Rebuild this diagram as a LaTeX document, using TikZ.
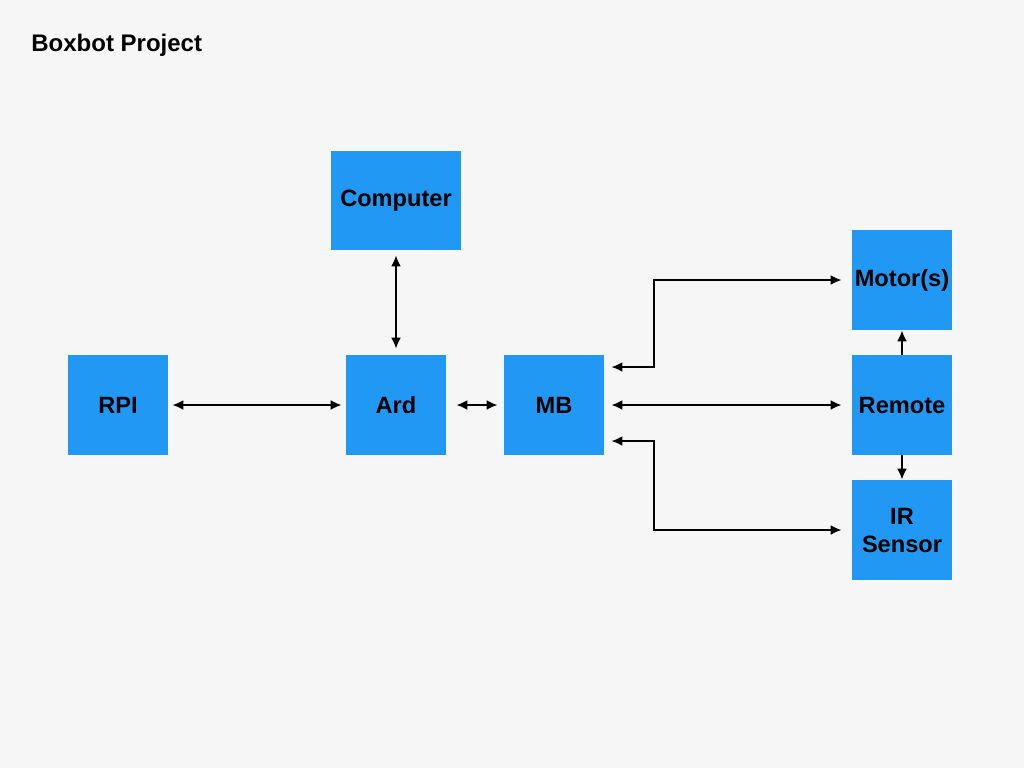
\documentclass[tikz,border=0pt]{standalone}
\usepackage{fontspec}
\setmainfont{Liberation Sans}
\usetikzlibrary{arrows.meta}
\definecolor{boxblue}{RGB}{33,152,243}
\definecolor{bggray}{RGB}{246,246,246}
\tikzset{
    blk/.style={fill=boxblue, minimum width=50pt, minimum height=50pt, inner sep=1pt,
        align=center, font=\fontsize{11.8pt}{14pt}\selectfont\bfseries},
    link/.style={line width=1pt, {Latex[length=5.5pt,width=5pt]}-{Latex[length=5.5pt,width=5pt]},
        shorten <=2pt, shorten >=2pt},
    onelink/.style={line width=1pt, -{Latex[length=5.5pt,width=5pt]}}
}
\begin{document}
\begin{tikzpicture}[x=0.5pt,y=-0.5pt]
    \fill[bggray] (0,0) rectangle (1024,768);
    \node[anchor=west, inner sep=0pt, font=\fontsize{12pt}{14pt}\selectfont\bfseries] (title) at (31,45) {Boxbot Project};
    % boxes
    \node[blk, minimum width=65pt, minimum height=49.5pt] (computer) at (396,200.5) {Computer};
    \node[blk] (rpi) at (118,405) {RPI};
    \node[blk] (ard) at (396,405) {Ard};
    \node[blk] (mb) at (554,405) {MB};
    \node[blk] (motor) at (902,280) {Motor(s)};
    \node[blk] (remote) at (902,405) {Remote};
    \node[blk] (ir) at (902,530) {IR\\Sensor};
    % links
    \draw[link] (rpi) -- (ard);
    \draw[link, shorten <=5pt, shorten >=3pt] (ard) -- (mb);
    \draw[link, shorten <=2.5pt, shorten >=3pt] (computer) -- (ard);
    \draw[link, shorten <=3.5pt, shorten >=5pt] (mb) -- (remote);
    \draw[link, shorten <=3.5pt, shorten >=5pt] ([yshift=19pt]mb.east) -- ++(50,0) |- (motor.west);
    \draw[link, shorten <=3.5pt, shorten >=5pt] ([yshift=-18pt]mb.east) -- ++(50,0) |- (ir.west);
    \draw[onelink] (remote) -- (motor);
    \draw[onelink] (remote) -- (ir);
\end{tikzpicture}
\end{document}
